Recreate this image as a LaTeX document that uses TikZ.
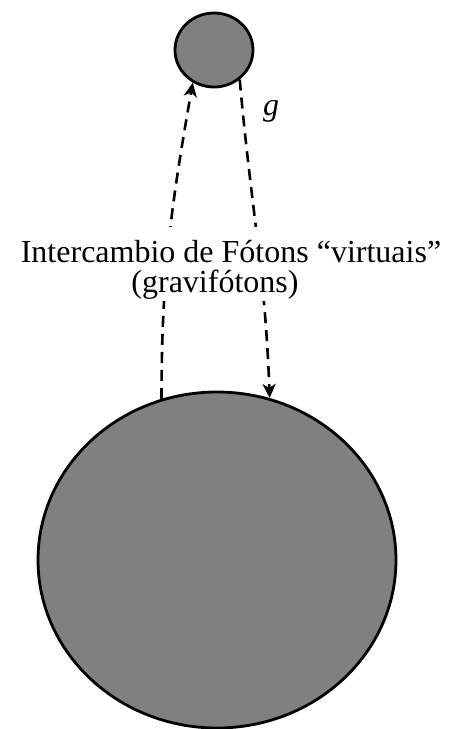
\documentclass[tikz,border=0pt]{standalone}
\usepackage{fontspec}
\setmainfont{Liberation Serif}
\usetikzlibrary{arrows.meta}
\usetikzlibrary{shapes,positioning}
\tikzset{>={Stealth[length=14pt,width=13pt,inset=4pt]}}

\begin{document}
\begin{tikzpicture}[x=1pt,y=-1pt,
    ball/.style={draw,fill=gray,line width=2.8pt,inner sep=0pt},
    photon/.style={->,line width=2.6pt,dash pattern=on 11pt off 7pt},
    lbl/.style={fill=white,inner sep=4pt,font=\fontsize{32}{38}\selectfont}]
    \useasboundingbox (0,0) rectangle (449,729);
    \node (moon) [ball,ellipse,minimum width=78pt,minimum height=74pt] at (214,50) {};
    \node (earth) [ball,ellipse,minimum width=358pt,minimum height=336pt] at (217,560) {};

    \path[photon] (earth.109) edge [out=90,in=-100] (moon.237);
    \path[photon] (moon.311) edge [out=-85,in=92] (earth.72);

    \node (ex) [lbl,inner ysep=14pt] at (231,252) {Intercambio de Fótons “virtuais”};
    \node (gr) [lbl,inner ysep=1pt] at (215,285) {(gravifótons)};
    \node (g) [lbl,fill=none] at (271,111) {\textit{g}};
  \end{tikzpicture}
\end{document}
